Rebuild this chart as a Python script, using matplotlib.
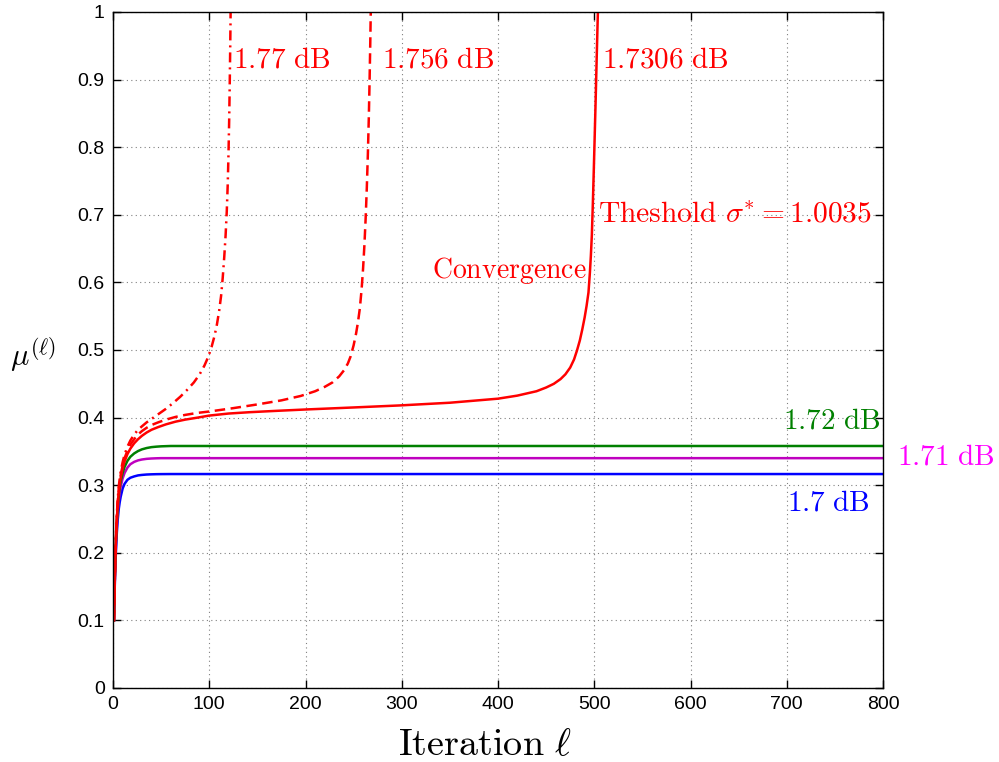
import matplotlib
matplotlib.use("Agg")
import matplotlib.pyplot as plt

plt.rcParams['mathtext.fontset'] = 'cm'
plt.rcParams['font.family'] = ['Liberation Sans', 'DejaVu Sans']

# ---- data ----
x_plateau = [1, 2, 3, 4, 5, 6, 7, 8, 10, 12, 15, 18, 22, 26, 30, 35, 40, 45, 50, 60, 70,
             80, 100, 200, 400, 800]
y_170 = [0.100, 0.160, 0.200, 0.230, 0.250, 0.265, 0.275, 0.283, 0.295, 0.302, 0.308,
         0.311, 0.313, 0.3145, 0.3152, 0.3158, 0.3161, 0.3163, 0.3164, 0.3165, 0.3165,
         0.3165, 0.3165, 0.3165, 0.3165, 0.3165]
y_171 = [0.100, 0.165, 0.210, 0.240, 0.262, 0.278, 0.289, 0.298, 0.310, 0.318, 0.326,
         0.331, 0.3345, 0.3367, 0.338, 0.339, 0.3395, 0.3398, 0.340, 0.340, 0.340,
         0.340, 0.340, 0.340, 0.340, 0.340]
y_172 = [0.100, 0.170, 0.215, 0.245, 0.268, 0.285, 0.297, 0.306, 0.318, 0.327, 0.336,
         0.342, 0.347, 0.3505, 0.353, 0.355, 0.3563, 0.357, 0.3575, 0.358, 0.358,
         0.358, 0.358, 0.358, 0.358, 0.358]

x_17306 = [1, 2, 3, 4, 5, 6, 7, 8, 10, 12, 15, 18, 22, 26, 30, 35, 40, 47, 55, 65, 75, 88,
           100, 120, 142, 170, 200, 250, 298, 350, 400, 420, 440, 450, 458, 465, 470, 475,
           479, 482, 485, 487.5, 490, 492, 494, 495.5, 496.5, 497.5, 498.5, 499.5, 500.5,
           501.5, 502.5, 503.5, 503.8]
y_17306 = [0.100, 0.170, 0.220, 0.250, 0.273, 0.290, 0.302, 0.311, 0.325, 0.335, 0.346,
           0.354, 0.362, 0.368, 0.373, 0.378, 0.382, 0.386, 0.390, 0.394, 0.397, 0.400,
           0.403, 0.406, 0.408, 0.410, 0.412, 0.415, 0.418, 0.422, 0.428, 0.4325, 0.439,
           0.4445, 0.450, 0.457, 0.464, 0.474, 0.486, 0.499, 0.514, 0.530, 0.548, 0.565,
           0.585, 0.615, 0.640, 0.670, 0.715, 0.765, 0.818, 0.872, 0.930, 0.985, 1.0]

x_1756 = [1, 2, 3, 4, 5, 6, 7, 8, 10, 12, 15, 18, 22, 26, 30, 35, 40, 47, 55, 65, 75, 88,
          100, 125, 150, 175, 195, 210, 220, 228, 235, 240, 244, 247, 250, 252.5, 254.5,
          256.5, 258.3, 259.8, 261.2, 262.5, 263.7, 264.8, 265.8, 266.6, 267.3, 267.8]
y_1756 = [0.100, 0.170, 0.222, 0.253, 0.277, 0.294, 0.306, 0.315, 0.329, 0.340, 0.351,
          0.360, 0.368, 0.375, 0.380, 0.385, 0.389, 0.393, 0.397, 0.401, 0.404, 0.407,
          0.409, 0.414, 0.4195, 0.4255, 0.432, 0.439, 0.4455, 0.452, 0.461, 0.470, 0.480,
          0.491, 0.507, 0.524, 0.541, 0.562, 0.590, 0.620, 0.655, 0.695, 0.740, 0.790,
          0.845, 0.900, 0.955, 1.0]

x_177 = [1, 2, 3, 4, 5, 6, 7, 8, 10, 12, 15, 18, 22, 26, 30, 35, 40, 47, 55, 62, 70, 77,
         84, 90, 95, 99, 102.5, 105.5, 108, 110.3, 112.3, 114, 115.6, 117, 118.2, 119.2,
         120, 120.7, 121.3, 121.8, 122.2]
y_177 = [0.100, 0.172, 0.225, 0.257, 0.281, 0.298, 0.310, 0.320, 0.334, 0.345, 0.357,
         0.366, 0.375, 0.382, 0.387, 0.393, 0.398, 0.405, 0.413, 0.421, 0.431, 0.441,
         0.452, 0.464, 0.477, 0.490, 0.505, 0.521, 0.538, 0.558, 0.580, 0.607, 0.638,
         0.670, 0.705, 0.745, 0.790, 0.840, 0.895, 0.950, 1.0]

x_ticks = [0, 100, 200, 300, 400, 500, 600, 700, 800]
y_ticks = [0, 0.1, 0.2, 0.3, 0.4, 0.5, 0.6, 0.7, 0.8, 0.9, 1]
y_ticklabels = ['0', '0.1', '0.2', '0.3', '0.4', '0.5', '0.6', '0.7', '0.8', '0.9', '1']

# ---- figure ----
fig = plt.figure(figsize=(9.99, 7.62), dpi=100)
ax = fig.add_axes([113 / 999, 1 - 688 / 762, 770 / 999, 676 / 762])

lw = 1.8
ax.plot(x_plateau, y_170, color='#0000FF', lw=lw)
ax.plot(x_plateau, y_171, color='#BF00BF', lw=lw)
ax.plot(x_plateau, y_172, color='#008000', lw=lw)
ax.plot(x_177, y_177, color='#FF0000', lw=lw, linestyle=(0, (4, 2, 0.8, 2)))
ax.plot(x_1756, y_1756, color='#FF0000', lw=lw, linestyle=(0, (4.2, 2.2)))
ax.plot(x_17306, y_17306, color='#FF0000', lw=lw)

ax.set_xlim(0, 800)
ax.set_ylim(0, 1)
ax.set_xticks(x_ticks)
ax.set_yticks(y_ticks)
ax.set_yticklabels(y_ticklabels)
ax.tick_params(direction='in', length=6, width=1, top=True, right=True,
               labelsize=14, pad=6)
for s in ax.spines.values():
    s.set_linewidth(1.0)
ax.grid(True, color='#808080', linestyle=(0, (1, 3)), linewidth=0.8)

ax.set_xlabel(r'$\mathrm{Iteration}\ \ell$', fontsize=27.5, va='center')
ax.xaxis.set_label_coords(0.483, -0.084)
ax.set_ylabel(r'$\mu^{(\ell)}$', fontsize=22, rotation=0, va='center', ha='center')
ax.yaxis.set_label_coords(-0.104, 0.4926)

tfs = 21
ax.text(124.7, 0.929, r'$\mathrm{1.77\ dB}$', color='#FF0000', fontsize=tfs, va='center', ha='left')
ax.text(279.5, 0.929, r'$\mathrm{1.756\ dB}$', color='#FF0000', fontsize=tfs, va='center', ha='left')
ax.text(508, 0.929, r'$\mathrm{1.7306\ dB}$', color='#FF0000', fontsize=tfs, va='center', ha='left')
ax.text(504, 0.700, r'$\mathrm{Theshold}\ \sigma^{*}=1.0035$', color='#FF0000', fontsize=21.3,
        va='center', ha='left', clip_on=False)
ax.text(331, 0.618, r'$\mathrm{Convergence}$', color='#FF0000', fontsize=20, va='center', ha='left')
ax.text(797, 0.396, r'$\mathrm{1.72\ dB}$', color='#008000', fontsize=tfs, va='center', ha='right')
ax.text(814.5, 0.342, r'$\mathrm{1.71\ dB}$', color='#FF00FF', fontsize=tfs, va='center',
        ha='left', clip_on=False)
ax.text(700, 0.275, r'$\mathrm{1.7\ dB}$', color='#0000FF', fontsize=tfs, va='center', ha='left')

fig.savefig('out.png', dpi=100)
